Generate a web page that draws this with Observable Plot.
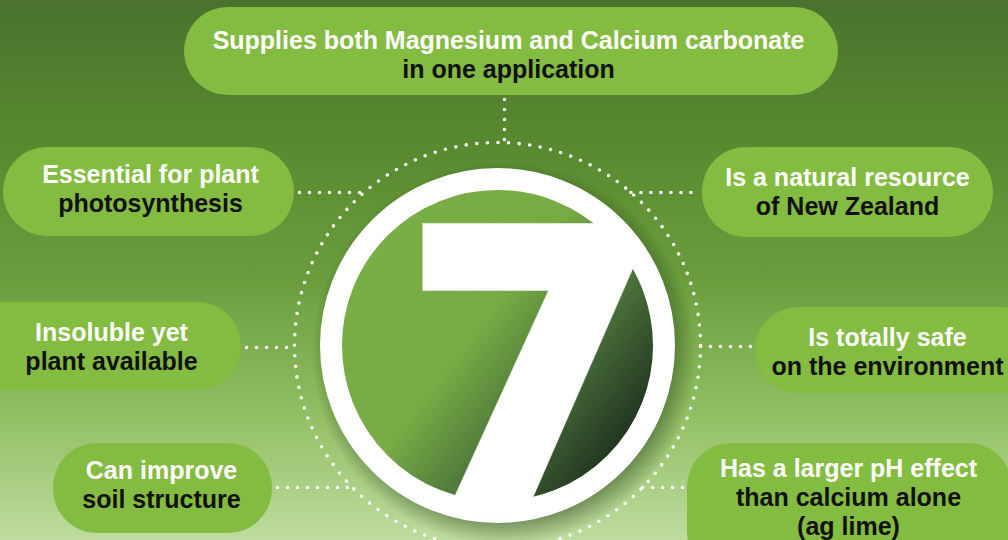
<!DOCTYPE html>
<html><head><meta charset="utf-8">
<script src="https://cdn.jsdelivr.net/npm/d3@7"></script>
<script src="https://cdn.jsdelivr.net/npm/@observablehq/plot@0.6"></script>
<style>
html,body{margin:0;padding:0;background:#6a9a3c;}
#chart svg{display:block;}
</style></head><body><div id="chart"></div>
<script>
// ---- content ----
const line1 = ["Supplies both Magnesium and Calcium carbonate","Essential for plant","Is a natural resource","Insoluble yet","Is totally safe","Can improve","Has a larger pH effect"];
const line2 = ["in one application","photosynthesis","of New Zealand","plant available","on the environment","soil structure","than calcium alone"];
const line3 = ["","","","","","","(ag lime)"];
// pill boxes (picture units, y down)
const pillLeft   = [184, 3, 702, -50, 755, 53, 687];
const pillRight  = [838, 294, 993, 241, 1045, 272, 1012];
const pillTop    = [7, 147, 147, 302, 307, 443, 443];
const pillBottom = [95, 236, 237, 390, 393, 533, 575];
const textX      = [508, 150, 847, 111, 887, 161, 848];
const textY      = [53.5, 187.5, 190.5, 345.5, 350.5, 483.5, 496];
const connectorY = [null, 192, 192, 347, 346, 487, 487];
const topConnectorX = 504;
// central badge
const badgeCenter = {x: 497, y: 345};
// outline of the "7" figure
const sevenX = [422, 609, 638, 528, 450, 548, 422];
const sevenY = [223, 223, 255, 507, 505, 290, 290];

const W = 1008, H = 540;
const R_DOTS = 203, R_RING = 166.5, R_DISK = 156;

const pills = line1.map((t, i) => ({x1: pillLeft[i], x2: pillRight[i], y1: pillTop[i], y2: pillBottom[i],
  label: [t, line2[i], line3[i]].filter(Boolean).join("\n"), tx: textX[i], ty: textY[i]}));
const seven = sevenX.map((x, i) => ({x, y: sevenY[i]}));

const links = [];
links.push({x1: topConnectorX, y1: pillBottom[0] + 4, x2: topConnectorX, y2: badgeCenter.y - R_DOTS});
for (let i = 1; i < pills.length; i++) {
  const y = connectorY[i];
  const dx = Math.sqrt(R_DOTS * R_DOTS - (y - badgeCenter.y) ** 2);
  const left = pillRight[i] < badgeCenter.x;
  if (left) links.push({x1: pillRight[i] + 5, y1: y, x2: badgeCenter.x - dx, y2: y});
  else links.push({x1: badgeCenter.x + dx, y1: y, x2: pillLeft[i] - 3, y2: y});
}

const font = "'Liberation Sans', Arial, sans-serif";
const svg = Plot.plot({
  width: W, height: H, margin: 0,
  x: {domain: [0, W], axis: null},
  y: {domain: [0, H], reverse: true, axis: null},
  style: {background: "linear-gradient(180deg, #4a722e 0%, #58882f 25%, #6b9d3d 52%, #90be62 76%, #bedc9f 100%)"},
  marks: [
    // dotted connectors
    Plot.link(links, {x1: "x1", y1: "y1", x2: "x2", y2: "y2", stroke: "white", strokeWidth: 3.6,
      strokeDasharray: "0 10", strokeLinecap: "round"}),
    Plot.dot([badgeCenter], {x: "x", y: "y", r: R_DOTS, stroke: "white", strokeWidth: 3.6, fill: "none",
      strokeDasharray: "0 10.63", strokeLinecap: "round"}),
    // shadow + badge
    Plot.dot([badgeCenter], {x: d => d.x + 6, y: d => d.y + 8, r: 192, fill: "url(#shadowGrad)", stroke: null}),
    Plot.dot([badgeCenter], {x: "x", y: "y", r: R_DISK, fill: "url(#diskGrad)", stroke: null}),
    Plot.line(seven, {x: "x", y: "y", fill: "white", stroke: "white", strokeWidth: 0.5}),
    Plot.dot([badgeCenter], {x: "x", y: "y", r: R_RING, fill: "none", stroke: "white", strokeWidth: 22}),
    // pills
    Plot.rect(pills, {x1: "x1", x2: "x2", y1: "y1", y2: "y2", rx: 44, fill: "#84bb41"}),
    Plot.text(pills, {x: "tx", y: "ty", text: "label", lineHeight: 1.16, fill: "#111",
      fontSize: 25, fontWeight: "bold", fontFamily: font, className: "pill-label"})
  ]
});

// first line of every label is white
d3.select(svg).selectAll(".pill-label text").each(function() {
  const first = this.querySelector("tspan");
  if (first) first.setAttribute("fill", "white");
});

const defs = d3.select(svg).insert("defs", ":first-child");
const dg = defs.append("linearGradient").attr("id", "diskGrad")
  .attr("x1", 0.1).attr("y1", 0.15).attr("x2", 0.95).attr("y2", 0.8);
dg.append("stop").attr("offset", 0).attr("stop-color", "#79ad45");
dg.append("stop").attr("offset", 0.42).attr("stop-color", "#77ab44");
dg.append("stop").attr("offset", 0.7).attr("stop-color", "#4a703a");
dg.append("stop").attr("offset", 1).attr("stop-color", "#1c2e1d");
const sg = defs.append("radialGradient").attr("id", "shadowGrad");
sg.append("stop").attr("offset", 0.86).attr("stop-color", "#1a3010").attr("stop-opacity", 0.45);
sg.append("stop").attr("offset", 1).attr("stop-color", "#1a3010").attr("stop-opacity", 0);

document.getElementById("chart").appendChild(svg);
</script></body></html>
